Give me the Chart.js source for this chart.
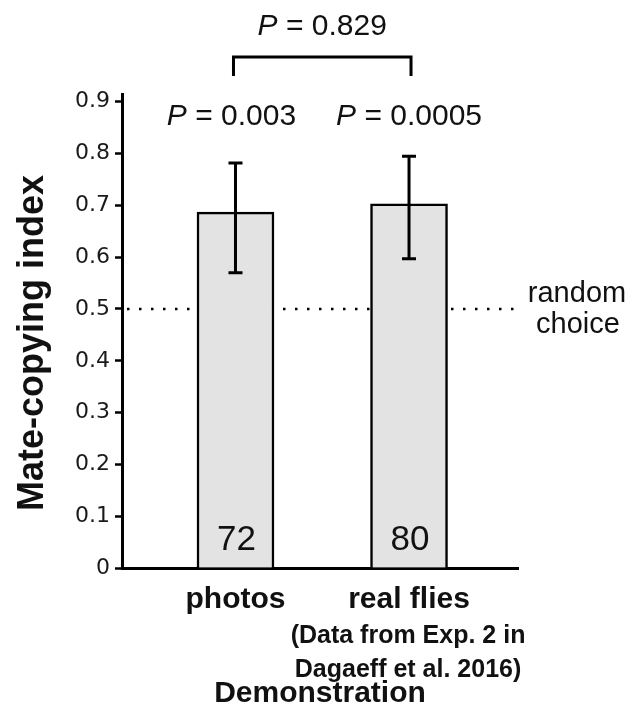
<!DOCTYPE html>
<html>
<head>
<meta charset="utf-8">
<script src="https://cdn.jsdelivr.net/npm/chart.js@4/dist/chart.umd.min.js"></script>
<style>
  html, body { margin: 0; padding: 0; background: #ffffff; }
  #wrap { width: 632px; height: 712px; }
</style>
</head>
<body>
<div id="wrap"><canvas id="c" width="632" height="712"></canvas></div>
<script>
// ---- data ----
const categories = ['photos', 'real flies'];
const categoryPositions = [1, 2];
const meanIndex = [0.687, 0.703];
const errLow = [0.570, 0.597];
const errHigh = [0.782, 0.795];
const sampleSizes = ['72', '80'];
const pVsChance = ['0.003', '0.0005'];
const pBetween = '0.829';
const yTickValues = [0, 0.1, 0.2, 0.3, 0.4, 0.5, 0.6, 0.7, 0.8, 0.9];
const yTickLabels = ['0', '0.1', '0.2', '0.3', '0.4', '0.5', '0.6', '0.7', '0.8', '0.9'];
const chanceLevel = 0.5;
const chanceLabel = ['random', 'choice'];
const sourceNote = ['(Data from Exp. 2 in', 'Dagaeff et al. 2016)'];
const yTitle = 'Mate-copying index';
const xTitle = 'Demonstration';

const SANS = "'Liberation Sans', Arial, sans-serif";

const overlay = {
  id: 'overlay',
  beforeDatasetsDraw(chart) {
    const ctx = chart.ctx, ca = chart.chartArea, y = chart.scales.y;
    const py = y.getPixelForValue(chanceLevel);
    ctx.save();
    ctx.strokeStyle = '#000';
    ctx.lineWidth = 2.5;
    ctx.setLineDash([2.5, 9.5]);
    ctx.beginPath();
    ctx.moveTo(ca.left + 5, py);
    ctx.lineTo(ca.right + 2, py);
    ctx.stroke();
    ctx.restore();
  },
  afterDatasetsDraw(chart) {
    const ctx = chart.ctx, ca = chart.chartArea;
    const xs = chart.scales.x, ys = chart.scales.y;
    ctx.save();
    ctx.strokeStyle = '#000';
    ctx.lineWidth = 3;
    // error bars
    categoryPositions.forEach((v, i) => {
      const px = xs.getPixelForValue(v);
      const lo = ys.getPixelForValue(errLow[i]);
      const hi = ys.getPixelForValue(errHigh[i]);
      ctx.beginPath();
      ctx.moveTo(px, lo); ctx.lineTo(px, hi);
      ctx.moveTo(px - 7, lo); ctx.lineTo(px + 7, lo);
      ctx.moveTo(px - 7, hi); ctx.lineTo(px + 7, hi);
      ctx.stroke();
    });
    // sample sizes inside bars
    ctx.fillStyle = '#111';
    ctx.font = '35px ' + SANS;
    ctx.textAlign = 'center';
    ctx.textBaseline = 'alphabetic';
    categoryPositions.forEach((v, i) => {
      ctx.fillText(sampleSizes[i], xs.getPixelForValue(v) + 1, ca.bottom - 18);
    });
    ctx.restore();
  },
  afterDraw(chart) {
    const ctx = chart.ctx;
    const xs = chart.scales.x;
    const x1 = xs.getPixelForValue(categoryPositions[0]);
    const x2 = xs.getPixelForValue(categoryPositions[1]);
    ctx.save();
    ctx.fillStyle = '#111';
    ctx.textBaseline = 'alphabetic';

    function pLabel(value, cx, baseline) {
      ctx.font = 'italic 30px ' + SANS;
      const wP = ctx.measureText('P').width;
      ctx.font = '30px ' + SANS;
      const rest = ' = ' + value;
      const wR = ctx.measureText(rest).width;
      const start = cx - (wP + wR) / 2;
      ctx.textAlign = 'left';
      ctx.font = 'italic 30px ' + SANS;
      ctx.fillText('P', start, baseline);
      ctx.font = '30px ' + SANS;
      ctx.fillText(rest, start + wP, baseline);
    }
    pLabel(pVsChance[0], x1 - 4, 125);
    pLabel(pVsChance[1], x2, 125);
    pLabel(pBetween, (x1 + x2) / 2, 35);

    // bracket
    ctx.strokeStyle = '#000';
    ctx.lineWidth = 3;
    ctx.beginPath();
    ctx.moveTo(x1 - 2, 76);
    ctx.lineTo(x1 - 2, 57);
    ctx.lineTo(x2 + 2, 57);
    ctx.lineTo(x2 + 2, 76);
    ctx.stroke();

    // random choice
    ctx.textAlign = 'center';
    ctx.font = '29px ' + SANS;
    ctx.fillText(chanceLabel[0], 577, 302);
    ctx.fillText(chanceLabel[1], 578, 333);

    // source note under "real flies"
    ctx.font = 'bold 25px ' + SANS;
    ctx.fillText(sourceNote[0], x2 - 1, 643);
    ctx.fillText(sourceNote[1], x2 - 1, 677);

    // y title
    ctx.translate(33, 343);
    ctx.rotate(-Math.PI / 2);
    ctx.font = 'bold 36px ' + SANS;
    ctx.textBaseline = 'middle';
    ctx.fillText(yTitle, 0, 0);
    ctx.restore();
  }
};

new Chart(document.getElementById('c'), {
  type: 'bar',
  data: {
    datasets: [{
      data: categoryPositions.map((x, i) => ({ x: x, y: meanIndex[i] })),
      backgroundColor: '#e3e3e3',
      borderColor: '#000',
      borderWidth: 2.5,
      borderSkipped: 'bottom',
      barThickness: 77
    }]
  },
  options: {
    responsive: false,
    animation: false,
    devicePixelRatio: 1,
    layout: { padding: { top: 94, right: 114, left: 0, bottom: 0 } },
    plugins: { legend: { display: false }, tooltip: { enabled: false }, title: { display: false } },
    scales: {
      x: {
        type: 'linear',
        offset: false,
        min: 0.346,
        max: 2.628,
        afterBuildTicks: (s) => { s.ticks = categoryPositions.map(v => ({ value: v })); },
        afterFit: (s) => { s.height = 144; },
        grid: { display: false, drawTicks: false, offset: false },
        border: { display: true, color: '#000', width: 3 },
        ticks: {
          autoSkip: false,
          maxRotation: 0,
          padding: 14,
          color: '#111',
          font: { family: SANS, size: 30, weight: 'bold' },
          callback: (v) => categories[categoryPositions.indexOf(v)]
        },
        title: {
          display: true,
          text: xTitle,
          color: '#111',
          padding: { top: 0, bottom: 0 },
          font: { family: SANS, size: 30, weight: 'bold' }
        }
      },
      y: {
        min: 0,
        max: 0.915,
        afterBuildTicks: (s) => { s.ticks = yTickValues.map(v => ({ value: v })); },
        afterFit: (s) => { s.width = 122; },
        grid: { display: true, drawOnChartArea: false, drawTicks: true, tickLength: 7, tickWidth: 2.5, tickColor: '#000' },
        border: { display: true, color: '#000', width: 3 },
        ticks: {
          padding: 5,
          color: '#1a1a1a',
          font: { family: "'DejaVu Sans', sans-serif", size: 22 },
          callback: (v) => yTickLabels[yTickValues.indexOf(v)]
        }
      }
    }
  },
  plugins: [overlay]
});
</script>
</body>
</html>
